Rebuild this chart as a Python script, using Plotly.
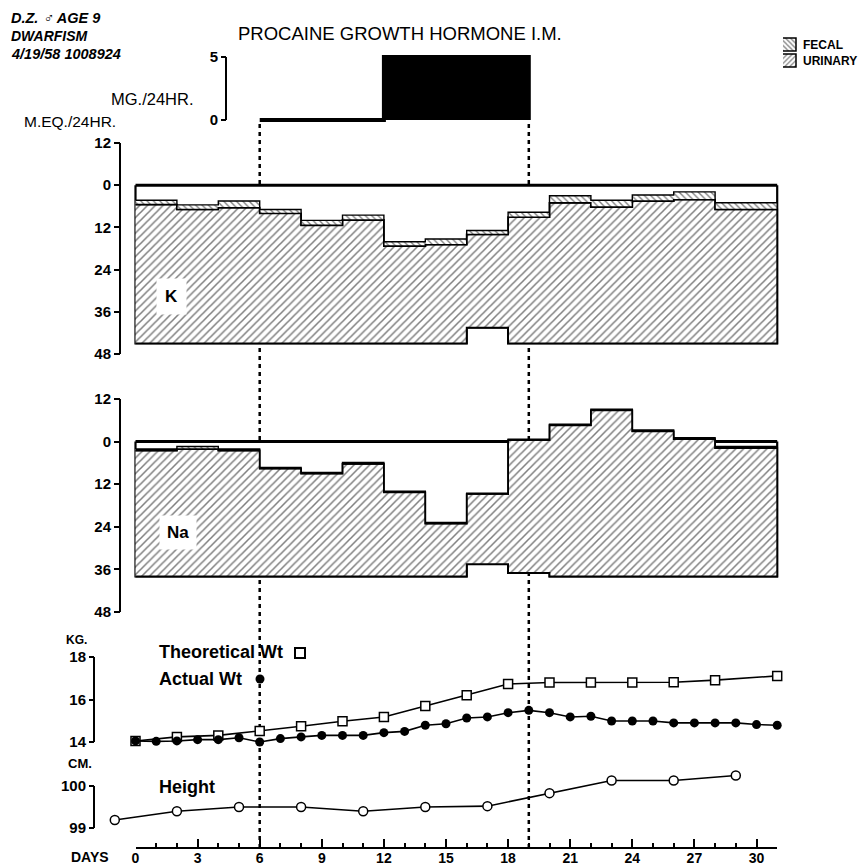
import plotly.graph_objects as go

# ---------------- data ----------------
# two-day balance periods (last one three days), in days
period_edges = [0, 2, 4, 6, 8, 10, 12, 14, 16, 18, 20, 22, 24, 26, 28, 31]

# potassium, mEq/24 hr
k_intake = [45, 45, 45, 45, 45, 45, 45, 45, 40.5, 45, 45, 45, 45, 45, 45]
k_urinary = [39.5, 38.1, 38.6, 37.0, 33.6, 35.1, 27.7, 28.1, 26.5, 35.9, 40.0, 38.8, 40.5, 40.9, 38.1]
k_fecal = [1.2, 1.3, 1.9, 1.1, 1.4, 1.4, 1.2, 1.6, 1.1, 1.4, 2.0, 1.9, 1.7, 2.2, 1.9]

# sodium, mEq/24 hr
na_intake = [38, 38, 38, 38, 38, 38, 38, 38, 34.5, 37, 38, 38, 38, 38, 38]
na_urinary = [35.5, 35.9, 35.5, 30.4, 29.0, 31.7, 23.7, 14.9, 19.7, 37.4, 42.6, 46.8, 40.9, 38.7, 36.2]
na_fecal = [0.4, 0.7, 0.4, 0.3, 0.3, 0.4, 0.3, 0.3, 0.3, 0.3, 0.3, 0.3, 0.4, 0.4, 0.4]

# growth hormone dose, mg/24 hr
dose_start = [6, 12]
dose_end = [12, 19]
dose_mg = [0, 5]
treatment_days = [6, 19]

# body weight, kg
theo_days = [0, 2, 4, 6, 8, 10, 12, 14, 16, 18, 20, 22, 24, 26, 28, 31]
theo_wt = [14.05, 14.24, 14.31, 14.52, 14.74, 14.98, 15.18, 15.69, 16.20, 16.73,
           16.80, 16.80, 16.80, 16.81, 16.91, 17.11]
act_days = list(range(32))
act_wt = [14.05, 14.03, 14.05, 14.11, 14.11, 14.20, 14.00, 14.16, 14.24, 14.31,
          14.31, 14.31, 14.44, 14.50, 14.79, 14.86, 15.13, 15.18, 15.38, 15.49,
          15.38, 15.18, 15.21, 14.99, 14.99, 14.99, 14.90, 14.90, 14.90, 14.90,
          14.82, 14.79]

# height, cm
height_days = [-1, 2, 5, 8, 11, 14, 17, 20, 23, 26, 29]
height_cm = [99.19, 99.40, 99.50, 99.50, 99.40, 99.50, 99.52, 99.83, 100.13, 100.13, 100.25]

day_ticks = [0, 3, 6, 9, 12, 15, 18, 21, 24, 27, 30]
day_minor = list(range(0, 32))
balance_ticks = [-12, 0, 12, 24, 36, 48]
balance_ticktext = ["12", "0", "12", "24", "36", "48"]

# ---------------- layout geometry (pixels) ----------------
W, H = 861, 867
DAY0_PX = 135.5
PX_PER_DAY = 20.7
FONT = "Liberation Sans, Arial, sans-serif"


def yp(px):
    return 1 - px / H


def xp(px):
    return px / W


def step(edges, vals):
    xs, ys = [], []
    for i, v in enumerate(vals):
        xs += [edges[i], edges[i + 1]]
        ys += [v, v]
    return xs, ys


fig = go.Figure()
shapes = []

# ---- dose panel ----
dx, dy = [], []
for s, e, m in zip(dose_start, dose_end, dose_mg):
    dx += [s, e]
    dy += [m, m]
dx = [dose_start[0]] + dx + [dose_end[-1]]
dy = [0] + dy + [0]
fig.add_trace(go.Scatter(x=dx, y=dy, xaxis="x", yaxis="y", mode="lines",
                         fill="toself", fillcolor="black",
                         line=dict(color="black", width=4),
                         hoverinfo="skip", showlegend=False))


# ---- balance panels ----
def balance(intake, urinary, fecal, yaxis):
    e0, eN = period_edges[0], period_edges[-1]
    ix, iy = step(period_edges, intake)
    utop = [i - u for i, u in zip(intake, urinary)]
    ftop = [t - f for t, f in zip(utop, fecal)]
    ux, uy = step(period_edges, utop)
    fx, fy = step(period_edges, ftop)
    out = []
    out.append(go.Scatter(x=[e0] + ix + [eN], y=[0] + iy + [0], yaxis=yaxis,
                          mode="lines", fill="toself", fillcolor="white",
                          line=dict(color="black", width=2.2),
                          hoverinfo="skip", showlegend=False))
    out.append(go.Scatter(x=[e0, eN], y=[0, 0], yaxis=yaxis, mode="lines",
                          line=dict(color="black", width=3),
                          hoverinfo="skip", showlegend=False))
    out.append(go.Scatter(x=ix + ux[::-1], y=iy + uy[::-1], yaxis=yaxis,
                          mode="lines", fill="toself",
                          fillpattern=dict(shape="/", size=5.5, solidity=0.28,
                                           fgcolor="black", bgcolor="white"),
                          line=dict(color="black", width=1.8),
                          hoverinfo="skip", showlegend=False))
    out.append(go.Scatter(x=ux + fx[::-1], y=uy + fy[::-1], yaxis=yaxis,
                          mode="lines", fill="toself",
                          fillpattern=dict(shape="\\", size=4.5, solidity=0.3,
                                           fgcolor="black", bgcolor="white"),
                          line=dict(color="black", width=1.4),
                          hoverinfo="skip", showlegend=False))
    return out


for tr in balance(k_intake, k_urinary, k_fecal, "y2"):
    fig.add_trace(tr)
for tr in balance(na_intake, na_urinary, na_fecal, "y3"):
    fig.add_trace(tr)

# ---- weight ----
fig.add_trace(go.Scatter(x=theo_days, y=theo_wt, yaxis="y4", mode="lines+markers",
                         line=dict(color="black", width=1.6),
                         marker=dict(symbol="square", size=9, color="white",
                                     line=dict(color="black", width=1.5)),
                         cliponaxis=False, hoverinfo="skip", showlegend=False))
fig.add_trace(go.Scatter(x=act_days, y=act_wt, yaxis="y4", mode="lines+markers",
                         line=dict(color="black", width=1.6),
                         marker=dict(symbol="circle", size=9, color="black"),
                         cliponaxis=False, hoverinfo="skip", showlegend=False))

# ---- height ----
fig.add_trace(go.Scatter(x=height_days, y=height_cm, yaxis="y5", mode="lines+markers",
                         line=dict(color="black", width=1.6),
                         marker=dict(symbol="circle", size=9, color="white",
                                     line=dict(color="black", width=1.5)),
                         cliponaxis=False, hoverinfo="skip", showlegend=False))

# ---- day axis carrier ----
fig.add_trace(go.Scatter(x=[0], y=[99], xaxis="x2", yaxis="y5", mode="markers",
                         marker=dict(opacity=0), hoverinfo="skip", showlegend=False))

# ---- key symbols, placed in a pixel-space overlay ----
fig.add_trace(go.Scatter(x=[783, 796, 796, 783], y=[38, 38, 51, 51], xaxis="x3", yaxis="y6",
                         mode="lines", fill="toself",
                         fillpattern=dict(shape="\\", size=3.5, solidity=0.35,
                                          fgcolor="black", bgcolor="white"),
                         line=dict(color="black", width=1.5),
                         hoverinfo="skip", showlegend=False))
fig.add_trace(go.Scatter(x=[783, 796, 796, 783], y=[54, 54, 67, 67], xaxis="x3", yaxis="y6",
                         mode="lines", fill="toself",
                         fillpattern=dict(shape="/", size=3.5, solidity=0.35,
                                          fgcolor="black", bgcolor="white"),
                         line=dict(color="black", width=1.5),
                         hoverinfo="skip", showlegend=False))
fig.add_trace(go.Scatter(x=[300], y=[653], xaxis="x3", yaxis="y6", mode="markers",
                         marker=dict(symbol="square", size=10, color="white",
                                     line=dict(color="black", width=2)),
                         hoverinfo="skip", showlegend=False))
fig.add_trace(go.Scatter(x=[260], y=[679], xaxis="x3", yaxis="y6", mode="markers",
                         marker=dict(symbol="circle", size=9, color="black"),
                         hoverinfo="skip", showlegend=False))

# ---------------- axes ----------------
x_lo = -DAY0_PX / PX_PER_DAY
x_hi = (W - DAY0_PX) / PX_PER_DAY

tickfont = dict(family=FONT, size=15, color="black", weight="bold")


def yaxis(px_lo, px_hi, lo, hi, x_px, tickvals, ticktext=None, ticklen=6,
          pad_lo=0.0, pad_hi=0.0, yref=None):
    """Axis whose value lo sits at pixel row px_lo and hi at px_hi.
    The plotting window may be padded beyond the spine so marks are not clipped;
    the spine itself is drawn only from lo to hi."""
    ppu = (px_lo - px_hi) / abs(hi - lo)
    d_lo = px_lo + pad_lo * ppu
    d_hi = px_hi - pad_hi * ppu
    if lo > hi:  # reversed axis (values grow downward)
        rng = [lo + pad_lo, hi - pad_hi]
    else:
        rng = [lo - pad_lo, hi + pad_hi]
    d = dict(domain=[yp(d_lo), yp(d_hi)], range=rng, anchor="free",
             position=xp(x_px), side="left", showline=False,
             ticks="outside", ticklen=ticklen, tickwidth=2,
             tickcolor="black", tickvals=tickvals, showgrid=False, zeroline=False,
             tickfont=tickfont, fixedrange=True, automargin=False)
    if ticktext is not None:
        d["ticktext"] = ticktext
    shapes.append(dict(type="line", xref="paper", yref=yref, x0=xp(x_px), x1=xp(x_px),
                       y0=lo, y1=hi, line=dict(color="black", width=2)))
    return d


last_day = period_edges[-1]
x2_right = DAY0_PX + last_day * PX_PER_DAY

layout_axes = dict(
    xaxis=dict(domain=[0, 1], range=[x_lo, x_hi], visible=False, anchor="y",
               fixedrange=True, automargin=False),
    xaxis2=dict(domain=[xp(DAY0_PX), xp(x2_right)], range=[0, last_day],
                anchor="free", position=yp(848), side="bottom",
                showline=True, linecolor="black", linewidth=2,
                ticks="inside", ticklen=8, tickwidth=2, tickcolor="black",
                tickvals=day_ticks, showgrid=False, zeroline=False,
                tickfont=dict(family=FONT, size=14, color="black", weight="bold"),
                ticklabelstandoff=-3,
                minor=dict(tickvals=day_minor, ticks="inside", ticklen=4,
                           tickwidth=2, tickcolor="black"),
                fixedrange=True, automargin=False),
    xaxis3=dict(domain=[0, 1], range=[0, W], visible=False, anchor="y6",
                fixedrange=True, automargin=False),
    yaxis=yaxis(120, 57, 0, 5, 226, [0, 5], ticklen=5, pad_lo=0.3, pad_hi=0.2, yref="y"),
    yaxis2=yaxis(354, 143, 48, -12, 120, balance_ticks, balance_ticktext, yref="y2"),
    yaxis3=yaxis(612, 399, 48, -12, 120, balance_ticks, balance_ticktext, yref="y3"),
    yaxis4=yaxis(742, 657, 14, 18, 94, [14, 16, 18], ticklen=5,
                 pad_lo=0.3, pad_hi=0.3, yref="y4"),
    yaxis5=yaxis(828, 786, 99, 100, 94, [99, 100], ticklen=5,
                 pad_lo=0.3, pad_hi=0.5, yref="y5"),
    yaxis6=dict(domain=[0, 1], range=[H, 0], visible=False, anchor="x3",
                fixedrange=True, automargin=False),
)

fig.update_layout(
    width=W, height=H,
    margin=dict(l=0, r=0, t=0, b=0, autoexpand=False),
    paper_bgcolor="white", plot_bgcolor="rgba(0,0,0,0)",
    font=dict(family=FONT, color="black"),
    showlegend=False,
    **layout_axes,
)

# treatment period markers
for d in treatment_days:
    shapes.append(dict(type="line", xref="x", yref="paper", x0=d, x1=d,
                       y0=yp(848), y1=yp(121), layer="below",
                       line=dict(color="black", width=2.5, dash="4px,4px")))

fig.update_layout(shapes=shapes)


def label(text, x, y, size, bold=False, italic=False, xanchor="left", **kw):
    f = dict(family=FONT, size=size, color="black")
    if bold:
        f["weight"] = "bold"
    if italic:
        f["style"] = "italic"
    fig.add_annotation(text=text, x=xp(x), y=yp(y), xref="paper", yref="paper",
                       xanchor=xanchor, yanchor="middle", showarrow=False,
                       font=f, **kw)


label("D.Z. ♂ AGE 9", 9, 18, 14.5, bold=True, italic=True)
label("DWARFISM", 9, 36, 14, bold=True, italic=True)
label("4/19/58 1008924", 9, 54, 14.5, bold=True, italic=True)
label("PROCAINE GROWTH HORMONE I.M.", 400, 33, 18.5, xanchor="center")
label("MG./24HR.", 196, 99, 16.5, xanchor="right")
label("M.EQ./24HR.", 118, 121, 15.5, xanchor="right")
label("FECAL", 801, 45, 12, bold=True)
label("URINARY", 801, 61, 12, bold=True)
label("K", 171, 297, 17, bold=True, xanchor="center", bgcolor="white", borderpad=8)
label("Na", 178, 532, 17, bold=True, xanchor="center", bgcolor="white", borderpad=7)
label("KG.", 64, 640, 12, bold=True)
label("Theoretical Wt", 157, 652, 18, bold=True)
label("Actual Wt", 157, 679, 18, bold=True)
label("CM.", 66, 763, 13, bold=True)
label("Height", 157, 787, 18, bold=True)
label("DAYS", 111, 857, 14, bold=True, xanchor="right")

fig.write_html("out.html")
